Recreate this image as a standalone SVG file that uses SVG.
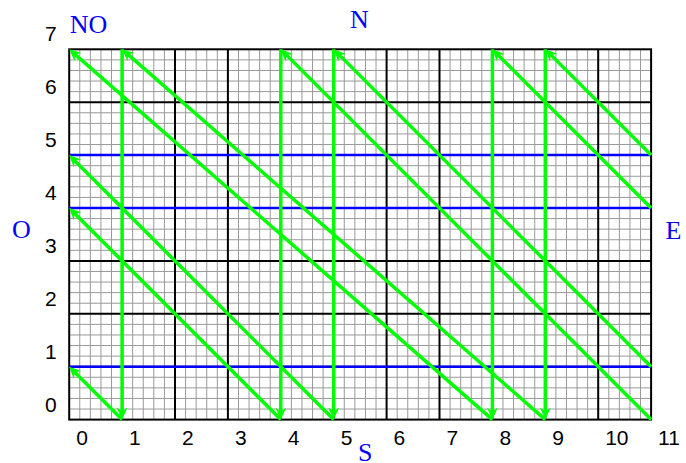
<svg xmlns="http://www.w3.org/2000/svg" width="686" height="463" viewBox="0 0 686 463">
<style>
.minor{fill:none;stroke:#999;stroke-width:1}
.major{fill:none;stroke:#000;stroke-width:2}
.blue{stroke:#0000ff;stroke-width:2.5;fill:none}
.green{stroke:#00ff00;stroke-width:3.5;fill:none;marker-end:url(#arr)}
.num{font-family:"Liberation Sans",Arial,sans-serif;font-size:21px;fill:#000}
.dir{font-family:"Liberation Serif","Times New Roman",serif;font-size:26px;fill:#0000ff}
</style>
<defs>
<marker id="arr" markerUnits="userSpaceOnUse" orient="auto" refX="0" refY="0" markerWidth="20" markerHeight="20" overflow="visible">
<path d="M4,0 L-8,-5.5 L-4,0 L-8,5.5 Z" fill="#00ff00"/>
</marker>
</defs>
<rect width="686" height="463" fill="#fff"/>
<g id="grid">
<path class="minor" d="M79.78 49.3V419.6M90.36 49.3V419.6M100.94 49.3V419.6M111.52 49.3V419.6M132.68 49.3V419.6M143.26 49.3V419.6M153.84 49.3V419.6M164.42 49.3V419.6M185.58 49.3V419.6M196.16 49.3V419.6M206.74 49.3V419.6M217.32 49.3V419.6M238.48 49.3V419.6M249.06 49.3V419.6M259.64 49.3V419.6M270.22 49.3V419.6M291.38 49.3V419.6M301.96 49.3V419.6M312.54 49.3V419.6M323.12 49.3V419.6M344.28 49.3V419.6M354.86 49.3V419.6M365.44 49.3V419.6M376.02 49.3V419.6M397.18 49.3V419.6M407.76 49.3V419.6M418.34 49.3V419.6M428.92 49.3V419.6M450.08 49.3V419.6M460.66 49.3V419.6M471.24 49.3V419.6M481.82 49.3V419.6M502.98 49.3V419.6M513.56 49.3V419.6M524.14 49.3V419.6M534.72 49.3V419.6M555.88 49.3V419.6M566.46 49.3V419.6M577.04 49.3V419.6M587.62 49.3V419.6M608.78 49.3V419.6M619.36 49.3V419.6M629.94 49.3V419.6M640.52 49.3V419.6"/>
<path class="minor" d="M69.2 409.02H651.1M69.2 398.44H651.1M69.2 387.86H651.1M69.2 377.28H651.1M69.2 356.12H651.1M69.2 345.54H651.1M69.2 334.96H651.1M69.2 324.38H651.1M69.2 303.22H651.1M69.2 292.64H651.1M69.2 282.06H651.1M69.2 271.48H651.1M69.2 250.32H651.1M69.2 239.74H651.1M69.2 229.16H651.1M69.2 218.58H651.1M69.2 197.42H651.1M69.2 186.84H651.1M69.2 176.26H651.1M69.2 165.68H651.1M69.2 144.52H651.1M69.2 133.94H651.1M69.2 123.36H651.1M69.2 112.78H651.1M69.2 91.62H651.1M69.2 81.04H651.1M69.2 70.46H651.1M69.2 59.88H651.1"/>
<path class="major" d="M122.1 49.3V419.6M175 49.3V419.6M227.9 49.3V419.6M280.8 49.3V419.6M333.7 49.3V419.6M386.6 49.3V419.6M439.5 49.3V419.6M492.4 49.3V419.6M545.3 49.3V419.6M598.2 49.3V419.6M69.2 366.7H651.1M69.2 313.8H651.1M69.2 260.9H651.1M69.2 208H651.1M69.2 155.1H651.1M69.2 102.2H651.1"/>
<rect class="major" x="69.2" y="49.3" width="581.9" height="370.3"/>
</g>
<g id="axis-labels">
<text class="num" x="76.2" y="445">0</text>
<text class="num" x="129.1" y="445">1</text>
<text class="num" x="182" y="445">2</text>
<text class="num" x="234.9" y="445">3</text>
<text class="num" x="287.8" y="445">4</text>
<text class="num" x="340.7" y="445">5</text>
<text class="num" x="393.6" y="445">6</text>
<text class="num" x="446.5" y="445">7</text>
<text class="num" x="499.4" y="445">8</text>
<text class="num" x="552.3" y="445">9</text>
<text class="num" x="605.2" y="445">10</text>
<text class="num" x="658.1" y="445">11</text>
<text class="num" x="45" y="411.6">0</text>
<text class="num" x="45" y="358.7">1</text>
<text class="num" x="45" y="305.8">2</text>
<text class="num" x="45" y="252.9">3</text>
<text class="num" x="45" y="200">4</text>
<text class="num" x="45" y="147.1">5</text>
<text class="num" x="45" y="94.2">6</text>
<text class="num" x="45" y="41.3">7</text>
</g>
<g id="directions">
<text id="NO" class="dir" x="69.7" y="33">NO</text>
<text id="N" class="dir" x="350" y="28">N</text>
<text id="O" class="dir" x="12" y="238">O</text>
<text id="E" class="dir" x="665.5" y="239">E</text>
<text id="S" class="dir" x="358" y="461">S</text>
</g>
<g id="connectors">
<path class="blue" d="M69.2 366.7H651.1M69.2 208H651.1M69.2 155.1H651.1"/>
<line class="green" x1="122.1" y1="49.3" x2="122.1" y2="415.6"/>
<line class="green" x1="280.8" y1="49.3" x2="280.8" y2="415.6"/>
<line class="green" x1="333.7" y1="49.3" x2="333.7" y2="415.6"/>
<line class="green" x1="492.4" y1="49.3" x2="492.4" y2="415.6"/>
<line class="green" x1="545.3" y1="49.3" x2="545.3" y2="415.6"/>
<line class="green" x1="122.1" y1="419.6" x2="72.03" y2="369.53"/>
<line class="green" x1="280.8" y1="419.6" x2="72.03" y2="210.83"/>
<line class="green" x1="333.7" y1="419.6" x2="72.03" y2="157.93"/>
<line class="green" x1="492.4" y1="419.6" x2="72.21" y2="51.93"/>
<line class="green" x1="545.3" y1="419.6" x2="125.11" y2="51.93"/>
<line class="green" x1="651.1" y1="419.6" x2="283.63" y2="52.13"/>
<line class="green" x1="651.1" y1="366.7" x2="336.53" y2="52.13"/>
<line class="green" x1="651.1" y1="208" x2="495.23" y2="52.13"/>
<line class="green" x1="651.1" y1="155.1" x2="548.13" y2="52.13"/>
</g>
</svg>
